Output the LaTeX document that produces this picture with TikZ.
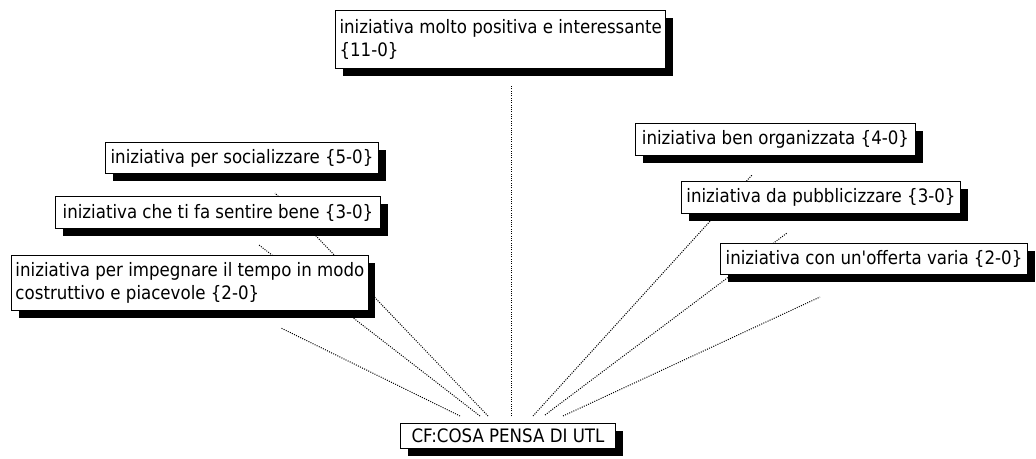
\documentclass[tikz,border=0pt]{standalone}
\usepackage{fontspec}
% plain family: keeps the straight apostrophe as typed
\newfontfamily\lbl{DejaVu Sans Condensed}
\usetikzlibrary{shadows}
\pgfdeclarelayer{background}
\pgfsetlayers{background,main}

\tikzset{
  item/.style={
    draw=black, line width=1pt, fill=white, anchor=north west,
    align=left, inner xsep=4pt, inner ysep=2pt,
    font=\lbl\fontsize{18.5}{23}\selectfont,
    drop shadow={shadow xshift=7pt, shadow yshift=-7pt, fill=black, opacity=1}
  },
  link/.style={line width=1pt, dash pattern=on 1pt off 1.3pt}
}

\begin{document}
\begin{tikzpicture}[x=1pt, y=-1pt]
\useasboundingbox (0,0) rectangle (1036,458);

% answer boxes
\node[item, minimum width=329pt, minimum height=58pt] (top) at (335,10)
  {iniziativa molto positiva e interessante\\\{11-0\}};
\node[item, minimum width=273pt, minimum height=31pt] (soc) at (105,142)
  {iniziativa per socializzare \{5-0\}};
\node[item, minimum width=325pt, minimum height=32pt] (che) at (55,196)
  {iniziativa che ti fa sentire bene \{3-0\}};
\node[item, minimum width=356pt, minimum height=55pt] (imp) at (11,255)
  {iniziativa per impegnare il tempo in modo\\costruttivo e piacevole \{2-0\}};
\node[item, minimum width=280pt, minimum height=32pt] (ben) at (635,123)
  {iniziativa ben organizzata \{4-0\}};
\node[item, minimum width=279pt, minimum height=32pt] (pub) at (681,181)
  {iniziativa da pubblicizzare \{3-0\}};
\node[item, minimum width=307pt, minimum height=31pt] (off) at (720,243)
  {iniziativa con un'offerta varia \{2-0\}};

% central question
\node[item, minimum width=215pt, minimum height=25pt, inner xsep=2pt] (cf) at (400,423)
  {CF:COSA PENSA DI UTL};

% spokes from the question to each answer, kept behind the boxes
\coordinate (sA) at (460,416); \coordinate (eA) at (281,328);
\coordinate (sB) at (480,416); \coordinate (eB) at (259,245);
\coordinate (sC) at (488,416); \coordinate (eC) at (275,193);
\coordinate (sV) at (511,416); \coordinate (eV) at (511,85);
\coordinate (sD) at (533,416); \coordinate (eD) at (752,175);
\coordinate (sE) at (545,415); \coordinate (eE) at (787,233);
\coordinate (sF) at (563,416); \coordinate (eF) at (820,297);

\begin{pgfonlayer}{background}
  \draw[link] (sA) -- (eA);
  \draw[link] (sB) -- (eB);
  \draw[link] (sC) -- (eC);
  \draw[link] (sV) -- (eV);
  \draw[link] (sD) -- (eD);
  \draw[link] (sE) -- (eE);
  \draw[link] (sF) -- (eF);
\end{pgfonlayer}
\end{tikzpicture}
\end{document}
